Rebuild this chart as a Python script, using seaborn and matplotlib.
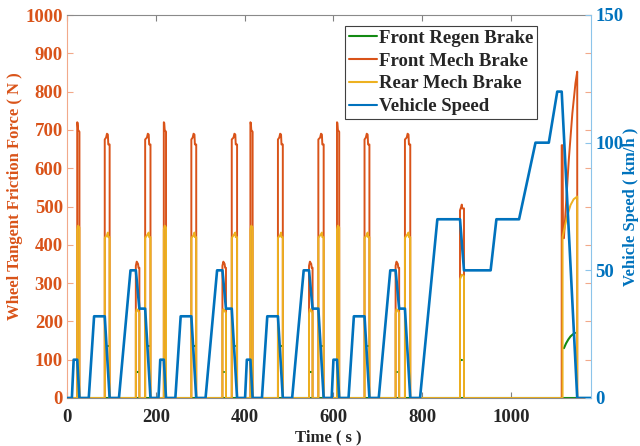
import numpy as np
import pandas as pd
import matplotlib
matplotlib.use("Agg")
import matplotlib.pyplot as plt
from matplotlib.lines import Line2D
from matplotlib.font_manager import FontProperties
import seaborn as sns

# ---------------- data ----------------
# ECE-15 urban cycle template (time within cycle, s) repeated 4 times
ece_offsets = [0, 195, 390, 585]
ece_time = [0, 11, 15, 23, 28, 49, 61, 85, 96, 117, 143, 155, 163, 176, 188, 195]
ece_speed = [0, 0, 15, 15, 0, 0, 32, 32, 0, 0, 50, 50, 35, 35, 0, 0]
# extra-urban part
eudc_time = [780, 795, 834, 885, 894, 954, 967, 1018, 1055, 1085, 1104, 1114, 1149, 1180]
eudc_speed = [0, 0, 70, 70, 50, 50, 70, 70, 100, 100, 120, 120, 0, 0]

# front mechanical brake force per ECE cycle (N)
ece_front_t = [0, 23, 23, 24, 25, 28, 28, 85, 85, 88, 90, 92, 93, 96, 96,
               155, 155, 157, 160, 161, 163, 163, 176, 176, 180, 182, 184, 185, 188, 188, 195]
ece_front_v = [0, 0, 720, 718, 700, 695, 0, 0, 675, 680, 690, 688, 662, 662, 0,
               0, 345, 356, 350, 340, 340, 0, 0, 675, 680, 690, 688, 662, 662, 0, 0]
# rear mechanical brake force per ECE cycle (N)
ece_rear_t = [0, 23, 23, 25, 28, 28, 85, 85, 90, 92, 93, 96, 96,
              155, 155, 157, 160, 163, 163, 176, 176, 182, 184, 185, 188, 188, 195]
ece_rear_v = [0, 0, 440, 450, 445, 0, 0, 418, 425, 432, 420, 420, 0,
              0, 220, 232, 228, 222, 0, 0, 418, 428, 432, 420, 420, 0, 0]
# extra-urban brake forces
eudc_front_t = [780, 885, 885, 888, 889, 890, 894, 894,
                1114, 1114, 1116, 1117, 1119, 1123, 1130, 1138, 1145, 1149, 1149, 1180]
eudc_front_v = [0, 0, 490, 500, 505, 495, 495, 0,
                0, 660, 660, 420, 417, 491, 622, 743, 822, 852, 0, 0]
eudc_rear_t = [780, 885, 885, 889, 894, 894, 1116, 1116, 1126, 1134, 1141, 1149, 1149, 1180]
eudc_rear_v = [0, 0, 310, 322, 318, 0, 0, 420, 474, 504, 519, 526, 0, 0]

# front regenerative brake (visible pieces)
regen_base_t = [0, 1180]
regen_base_v = [0, 0]
ece_regen_t = [(92.0, 94.0), (157.0, 159.0), (182.0, 184.0)]
ece_regen_v = [135, 68, 135]
eudc_regen_dot_t = (888.0, 890.0)
eudc_regen_dot_v = 100
eudc_regen_t = [1119, 1124, 1129, 1134, 1139, 1144]
eudc_regen_v = [130, 143, 153, 161, 166, 170]

x_ticks = [0, 200, 400, 600, 800, 1000]
left_ticks = list(range(0, 1001, 100))
right_ticks = [0, 50, 100, 150]

# ---------------- build tables ----------------
def build(tmpl_t, tmpl_v, tail_t, tail_v):
    t, v = [], []
    for off in ece_offsets:
        t += [off + a for a in tmpl_t]
        v += list(tmpl_v)
    t += list(tail_t)
    v += list(tail_v)
    return pd.DataFrame({"t": t, "v": v})

speed_df = build(ece_time, ece_speed, eudc_time, eudc_speed)
front_df = build(ece_front_t, ece_front_v, eudc_front_t, eudc_front_v)
rear_df = build(ece_rear_t, ece_rear_v, eudc_rear_t, eudc_rear_v)

rows = []
seg = 0
for a, b in zip(regen_base_t, regen_base_v):
    rows.append((seg, a, b))
for off in ece_offsets:
    for (t0, t1), val in zip(ece_regen_t, ece_regen_v):
        seg += 1
        rows += [(seg, off + t0, val), (seg, off + t1, val)]
seg += 1
rows += [(seg, eudc_regen_dot_t[0], eudc_regen_dot_v), (seg, eudc_regen_dot_t[1], eudc_regen_dot_v)]
seg += 1
rows += [(seg, a, b) for a, b in zip(eudc_regen_t, eudc_regen_v)]
regen_df = pd.DataFrame(rows, columns=["seg", "t", "v"])

# ---------------- style ----------------
sns.set_style("white")
plt.rcParams["font.family"] = ["Liberation Serif", "DejaVu Serif"]
plt.rcParams["font.weight"] = "bold"
plt.rcParams["axes.labelweight"] = "bold"

def fp(size):
    return FontProperties(family="Liberation Serif", weight="bold", size=size)

c_regen = "#138A13"
c_front = "#D95319"
c_rear = "#EDB120"
c_speed = "#0072BD"

fig = plt.figure(figsize=(6.4, 4.46), dpi=100)
ax = fig.add_axes([67 / 640, 1 - 398 / 446, (591 - 67) / 640, (398 - 15) / 446])

sns.lineplot(data=regen_df, x="t", y="v", units="seg", estimator=None, sort=False,
             ax=ax, color=c_regen, lw=1.5)
sns.lineplot(data=front_df, x="t", y="v", estimator=None, sort=False,
             ax=ax, color=c_front, lw=1.4)
sns.lineplot(data=rear_df, x="t", y="v", estimator=None, sort=False,
             ax=ax, color=c_rear, lw=1.4)

ax2 = ax.twinx()
sns.lineplot(data=speed_df, x="t", y="v", estimator=None, sort=False,
             ax=ax2, color=c_speed, lw=1.9)

ax.set_xlim(0, 1180)
ax.set_ylim(0, 1000)
ax2.set_ylim(0, 150)
ax.set_xticks(x_ticks, labels=[str(v) for v in x_ticks], fontproperties=fp(13.5))
ax.set_yticks(left_ticks, labels=[str(v) for v in left_ticks], fontproperties=fp(13.5))
ax2.set_yticks(right_ticks, labels=[str(v) for v in right_ticks], fontproperties=fp(13.5))

ax.tick_params(axis="x", direction="in", top=True, bottom=True, length=4,
               color="#808080", labelcolor="#262626", pad=8)
ax.tick_params(axis="y", direction="in", left=True, right=True, length=4,
               color="#F2A98A", labelcolor=c_front, pad=3)
ax2.tick_params(axis="y", direction="in", right=True, length=4,
                color="#8CC4EA", labelcolor=c_speed, pad=3)

for s in ["top", "bottom"]:
    ax.spines[s].set_color("#8A8A8A")
    ax.spines[s].set_linewidth(0.8)
ax.spines["left"].set_color("#F2A98A")
ax.spines["right"].set_visible(False)
for s in ["left", "top", "bottom"]:
    ax2.spines[s].set_visible(False)
ax2.spines["right"].set_color("#8CC4EA")

ax.set_xlabel("Time ( s )", fontproperties=fp(12), color="#262626")
ax.set_ylabel("Wheel Tangent Friction Force ( N )", fontproperties=fp(12), color=c_front)
ax2.set_ylabel("Vehicle Speed ( km/h )", fontproperties=fp(12), color=c_speed)
ax.xaxis.set_label_coords((328 - 67) / 524, (398 - 429) / 383)
ax.yaxis.set_label_coords((23 - 67) / 524, (398 - 196) / 383)
ax2.yaxis.set_label_coords((623 - 67) / 524, (398 - 207) / 383)

handles = [Line2D([], [], color=c_regen, lw=1.5),
           Line2D([], [], color=c_front, lw=1.5),
           Line2D([], [], color=c_rear, lw=1.5),
           Line2D([], [], color=c_speed, lw=1.5)]
labels = ["Front Regen Brake", "Front Mech Brake", "Rear Mech Brake", "Vehicle Speed"]
leg = ax2.legend(handles, labels, loc="upper left",
                 bbox_to_anchor=(345 / 640, 1 - 26 / 446), bbox_transform=fig.transFigure,
                 frameon=True, fancybox=False, edgecolor="#404040", framealpha=1,
                 borderpad=0.2, labelspacing=0.3, handlelength=1.5, handletextpad=0.1,
                 borderaxespad=0, prop=fp(13.5))
leg.get_frame().set_linewidth(0.8)

fig.savefig("out.png", dpi=100)
